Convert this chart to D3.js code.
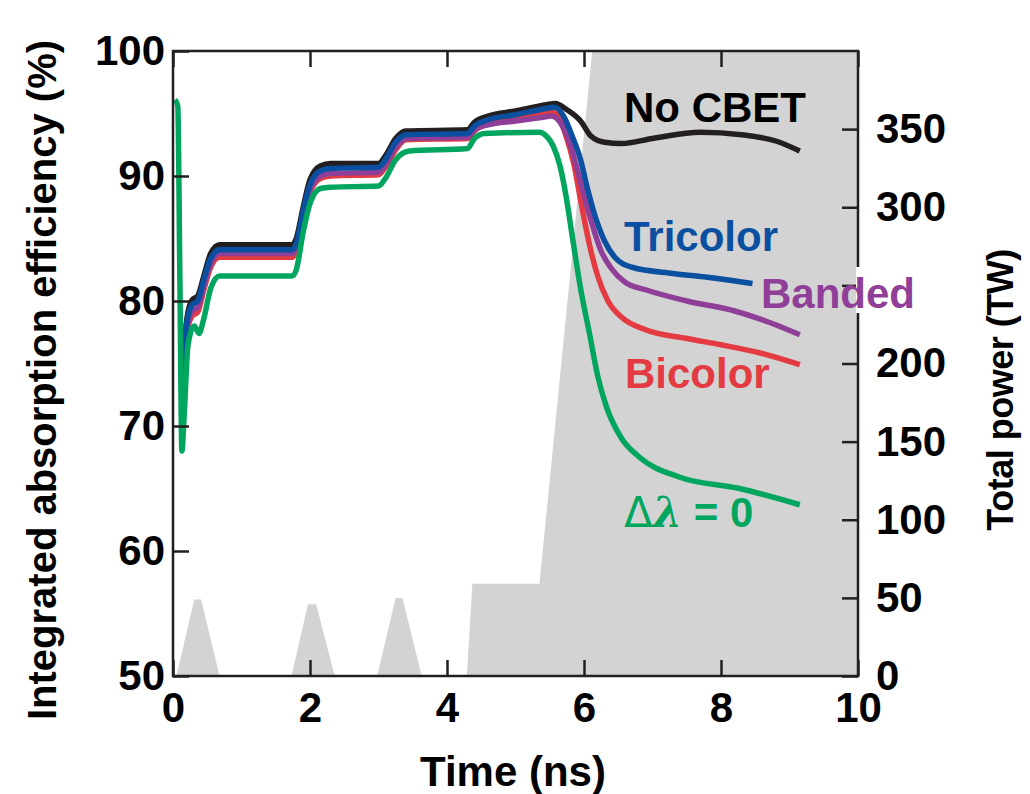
<!DOCTYPE html>
<html>
<head>
<meta charset="utf-8">
<script src="https://cdn.jsdelivr.net/npm/d3@7"></script>
<style>
  body { margin: 0; background: #fff; }
  svg text { font-family: "Liberation Sans", Arial, sans-serif; font-weight: bold; }
</style>
</head>
<body>
<div id="chart"></div>
<script>
// laser power (gray area, right axis)
var powerTime = [0, 0.05, 0.31, 0.41, 0.68, 1.73, 1.97, 2.09, 2.36, 2.98, 3.25, 3.35, 3.63, 4.29, 4.37, 5.35, 6.12, 10];
var powerTW   = [0, 0,    49,   49,   0,    0,    46,   46,   0,    0,    50,   50,   0,    0,    59,   59,   400,  400];

// absorption curves (left axis)
var noCbetTime = [0.14, 0.2, 0.28, 0.36, 0.45, 0.55, 0.68, 1.74, 1.8, 1.9, 2.0, 2.15, 2.3, 3.0, 3.1, 3.25, 3.4, 4.3, 4.4, 4.6, 5.0, 5.45, 5.58, 5.75, 5.95, 6.1, 6.3, 6.55, 7.0, 7.7, 8.3, 8.8, 9.15];
var noCbetVal  = [74.5, 78.5, 80.1, 80.4, 82.0, 83.8, 84.5, 84.5, 85.0, 87.5, 89.7, 90.8, 91.0, 91.0, 91.6, 93.0, 93.6, 93.7, 94.3, 94.8, 95.2, 95.7, 95.8, 95.3, 94.4, 93.2, 92.7, 92.6, 93.0, 93.5, 93.3, 92.8, 92.0];

var tricolorTime = [0.14, 0.2, 0.28, 0.36, 0.45, 0.55, 0.68, 1.74, 1.8, 1.9, 2.0, 2.15, 2.3, 3.0, 3.1, 3.25, 3.4, 4.3, 4.4, 4.6, 5.0, 5.45, 5.57, 5.7, 5.82, 5.95, 6.05, 6.15, 6.3, 6.45, 6.7, 7.3, 7.8, 8.46];
var tricolorVal  = [74.0, 78.2, 79.7, 80.0, 81.7, 83.4, 84.1, 84.1, 84.6, 87.2, 89.3, 90.4, 90.6, 90.7, 91.3, 92.7, 93.3, 93.4, 94.0, 94.5, 94.9, 95.4, 95.5, 94.8, 93.3, 91.3, 89.0, 87.0, 84.8, 83.5, 82.7, 82.2, 81.9, 81.4];

var bandedTime = [0.14, 0.2, 0.28, 0.36, 0.45, 0.55, 0.68, 1.74, 1.8, 1.9, 2.0, 2.15, 2.3, 3.0, 3.1, 3.25, 3.4, 4.3, 4.4, 4.6, 5.0, 5.4, 5.52, 5.65, 5.8, 5.95, 6.1, 6.25, 6.4, 6.6, 6.9, 7.5, 8.2, 8.7, 9.15];
var bandedVal  = [73.5, 77.7, 79.2, 79.5, 81.2, 83.0, 83.8, 83.8, 84.3, 86.8, 88.9, 90.0, 90.2, 90.3, 90.9, 92.3, 93.0, 93.1, 93.7, 94.1, 94.4, 94.7, 94.8, 94.3, 92.5, 89.5, 86.5, 84.0, 82.6, 81.5, 80.9, 80.0, 79.2, 78.3, 77.3];

var bicolorTime = [0.14, 0.2, 0.28, 0.36, 0.45, 0.55, 0.68, 1.74, 1.8, 1.9, 2.0, 2.15, 2.3, 3.0, 3.1, 3.25, 3.4, 4.3, 4.4, 4.6, 5.0, 5.4, 5.53, 5.62, 5.72, 5.85, 5.97, 6.08, 6.2, 6.35, 6.55, 6.9, 7.5, 8.0, 8.6, 9.15];
var bicolorVal  = [73.2, 77.4, 78.8, 79.1, 80.9, 82.7, 83.5, 83.5, 84.0, 86.6, 88.7, 89.8, 90.0, 90.1, 90.7, 92.1, 92.9, 93.0, 93.6, 94.2, 94.6, 95.0, 95.1, 94.8, 93.5, 91.0, 87.5, 84.5, 82.0, 80.0, 78.7, 77.7, 77.0, 76.5, 75.8, 74.9];

var zeroTime = [0.03, 0.07, 0.1, 0.13, 0.16, 0.22, 0.31, 0.38, 0.45, 0.55, 0.68, 1.74, 1.8, 1.9, 2.0, 2.15, 2.3, 3.0, 3.1, 3.25, 3.45, 4.3, 4.4, 4.55, 5.35, 5.45, 5.55, 5.65, 5.75, 5.82, 5.95, 6.08, 6.2, 6.33, 6.55, 6.81, 7.4, 8.27, 9.15];
var zeroVal  = [96.1, 95.6, 82.0, 68.0, 70.5, 76.5, 78.0, 77.4, 78.6, 81.0, 82.0, 82.0, 82.5, 85.5, 87.8, 89.0, 89.1, 89.2, 89.8, 91.3, 92.0, 92.2, 93.0, 93.4, 93.5, 93.2, 92.4, 90.8, 88.0, 85.5, 81.0, 77.4, 74.0, 71.5, 69.0, 67.5, 65.9, 65.0, 63.7];

var xTicks = [0, 2, 4, 6, 8, 10];
var yTicks = [50, 60, 70, 80, 90, 100];
var powerTicks = [0, 50, 100, 150, 200, 250, 300, 350];

var series = [
  { name: "No CBET",  t: noCbetTime,   v: noCbetVal,   color: "#231f20" },
  { name: "Bicolor",  t: bicolorTime,  v: bicolorVal,  color: "#e33b41" },
  { name: "Banded",   t: bandedTime,   v: bandedVal,   color: "#8f3f97" },
  { name: "Tricolor", t: tricolorTime, v: tricolorVal, color: "#0a4fa0" },
  { name: "zero",     t: zeroTime,     v: zeroVal,     color: "#00a65d" }
];

// set the dimensions and margins of the graph
var margin = {top: 51, right: 172, bottom: 118, left: 173},
    width = 1030 - margin.left - margin.right,
    height = 794 - margin.top - margin.bottom;

var svg0 = d3.select("#chart")
  .append("svg")
    .attr("width", 1030)
    .attr("height", 794);
var svg = svg0.append("g")
    .attr("transform", "translate(" + margin.left + "," + margin.top + ")");

var x = d3.scaleLinear().domain([0, 10]).range([0, width]);
var y = d3.scaleLinear().domain([50, 100]).range([height, 0]);
var yP = d3.scaleLinear().domain([0, 400]).range([height, 0]);

svg.append("clipPath").attr("id", "plotclip")
  .append("rect").attr("width", width).attr("height", height);

// gray power area
var powerData = powerTime.map(function(t, i) { return [t, powerTW[i]]; });
svg.append("path")
  .datum(powerData)
  .attr("clip-path", "url(#plotclip)")
  .attr("fill", "#d3d3d3")
  .attr("d", d3.area()
    .x(function(d) { return x(d[0]); })
    .y0(height)
    .y1(function(d) { return yP(d[1]); }));

// the curves
var line = d3.line()
  .curve(d3.curveMonotoneX)
  .x(function(d) { return x(d[0]); })
  .y(function(d) { return y(d[1]); });

series.forEach(function(s) {
  var pts = s.t.map(function(t, i) { return [t, s.v[i]]; });
  svg.append("path")
    .datum(pts)
    .attr("fill", "none")
    .attr("stroke", s.color)
    .attr("stroke-width", 5.5)
    .attr("stroke-linejoin", "round")
    .attr("d", line);
});

// axes, ticks pointing inward
var tickLen = 16;
function styleAxis(g) {
  g.select(".domain").remove();
  g.selectAll(".tick line").attr("stroke", "#231f20").attr("stroke-width", 2.5);
  g.selectAll(".tick text").attr("fill", "#000").style("font-size", "42px");
}

svg.append("g")
  .attr("transform", "translate(0," + height + ")")
  .call(d3.axisBottom(x).tickValues(xTicks).tickSizeInner(-tickLen).tickSizeOuter(0).tickPadding(16))
  .call(styleAxis);

svg.append("g")
  .call(d3.axisTop(x).tickValues(xTicks).tickSizeInner(-tickLen).tickSizeOuter(0).tickFormat(""))
  .call(styleAxis);

svg.append("g")
  .call(d3.axisLeft(y).tickValues(yTicks).tickSizeInner(-tickLen).tickSizeOuter(0).tickPadding(8))
  .call(styleAxis);

// the 250 label sits under the "Banded" box in the original
svg.append("g")
  .attr("transform", "translate(" + width + ",0)")
  .call(d3.axisRight(yP).tickValues(powerTicks).tickSizeInner(-tickLen).tickSizeOuter(0).tickPadding(18)
    .tickFormat(function(d) { return d == 250 ? "" : d; }))
  .call(styleAxis);

// frame
svg.append("rect")
  .attr("width", width).attr("height", height)
  .attr("fill", "none")
  .attr("stroke", "#231f20")
  .attr("stroke-width", 2.5);

// white box behind "Banded" that covers the frame
svg.append("rect")
  .attr("x", width - 2)
  .attr("y", 216)
  .attr("width", 80)
  .attr("height", 46)
  .attr("fill", "#fff");

// curve labels
svg.append("text").attr("x", 451).attr("y", 71).attr("fill", "#000").style("font-size", "42px").text("No CBET");
svg.append("text").attr("x", 451).attr("y", 200).attr("fill", "#0a4fa0").style("font-size", "42px").text("Tricolor");
svg.append("text").attr("x", 588).attr("y", 257).attr("fill", "#8f3f97").style("font-size", "42px").text("Banded");
svg.append("text").attr("x", 452).attr("y", 337).attr("fill", "#e33b41").style("font-size", "42px").text("Bicolor");

var dl = svg.append("text").attr("x", 451).attr("y", 476).attr("fill", "#00a65d").style("font-size", "42px");
dl.append("tspan").style("font-family", "'DejaVu Sans'").style("font-weight", "normal").text("\u0394");
dl.append("tspan").style("font-family", "'DejaVu Serif'").style("font-style", "italic").text("\u03bb");
dl.append("tspan").text(" = 0");

// axis titles
svg0.append("text")
  .attr("transform", "translate(56,380) rotate(-90)")
  .attr("text-anchor", "middle")
  .style("font-size", "40px")
  .text("Integrated absorption efficiency (%)");

svg0.append("text")
  .attr("transform", "translate(1013,390) rotate(-90)")
  .attr("text-anchor", "middle")
  .style("font-size", "36px")
  .style("letter-spacing", "-0.5px")
  .text("Total power (TW)");

svg0.append("text")
  .attr("x", 513).attr("y", 786)
  .attr("text-anchor", "middle")
  .style("font-size", "42px")
  .text("Time (ns)");
</script>
</body>
</html>
